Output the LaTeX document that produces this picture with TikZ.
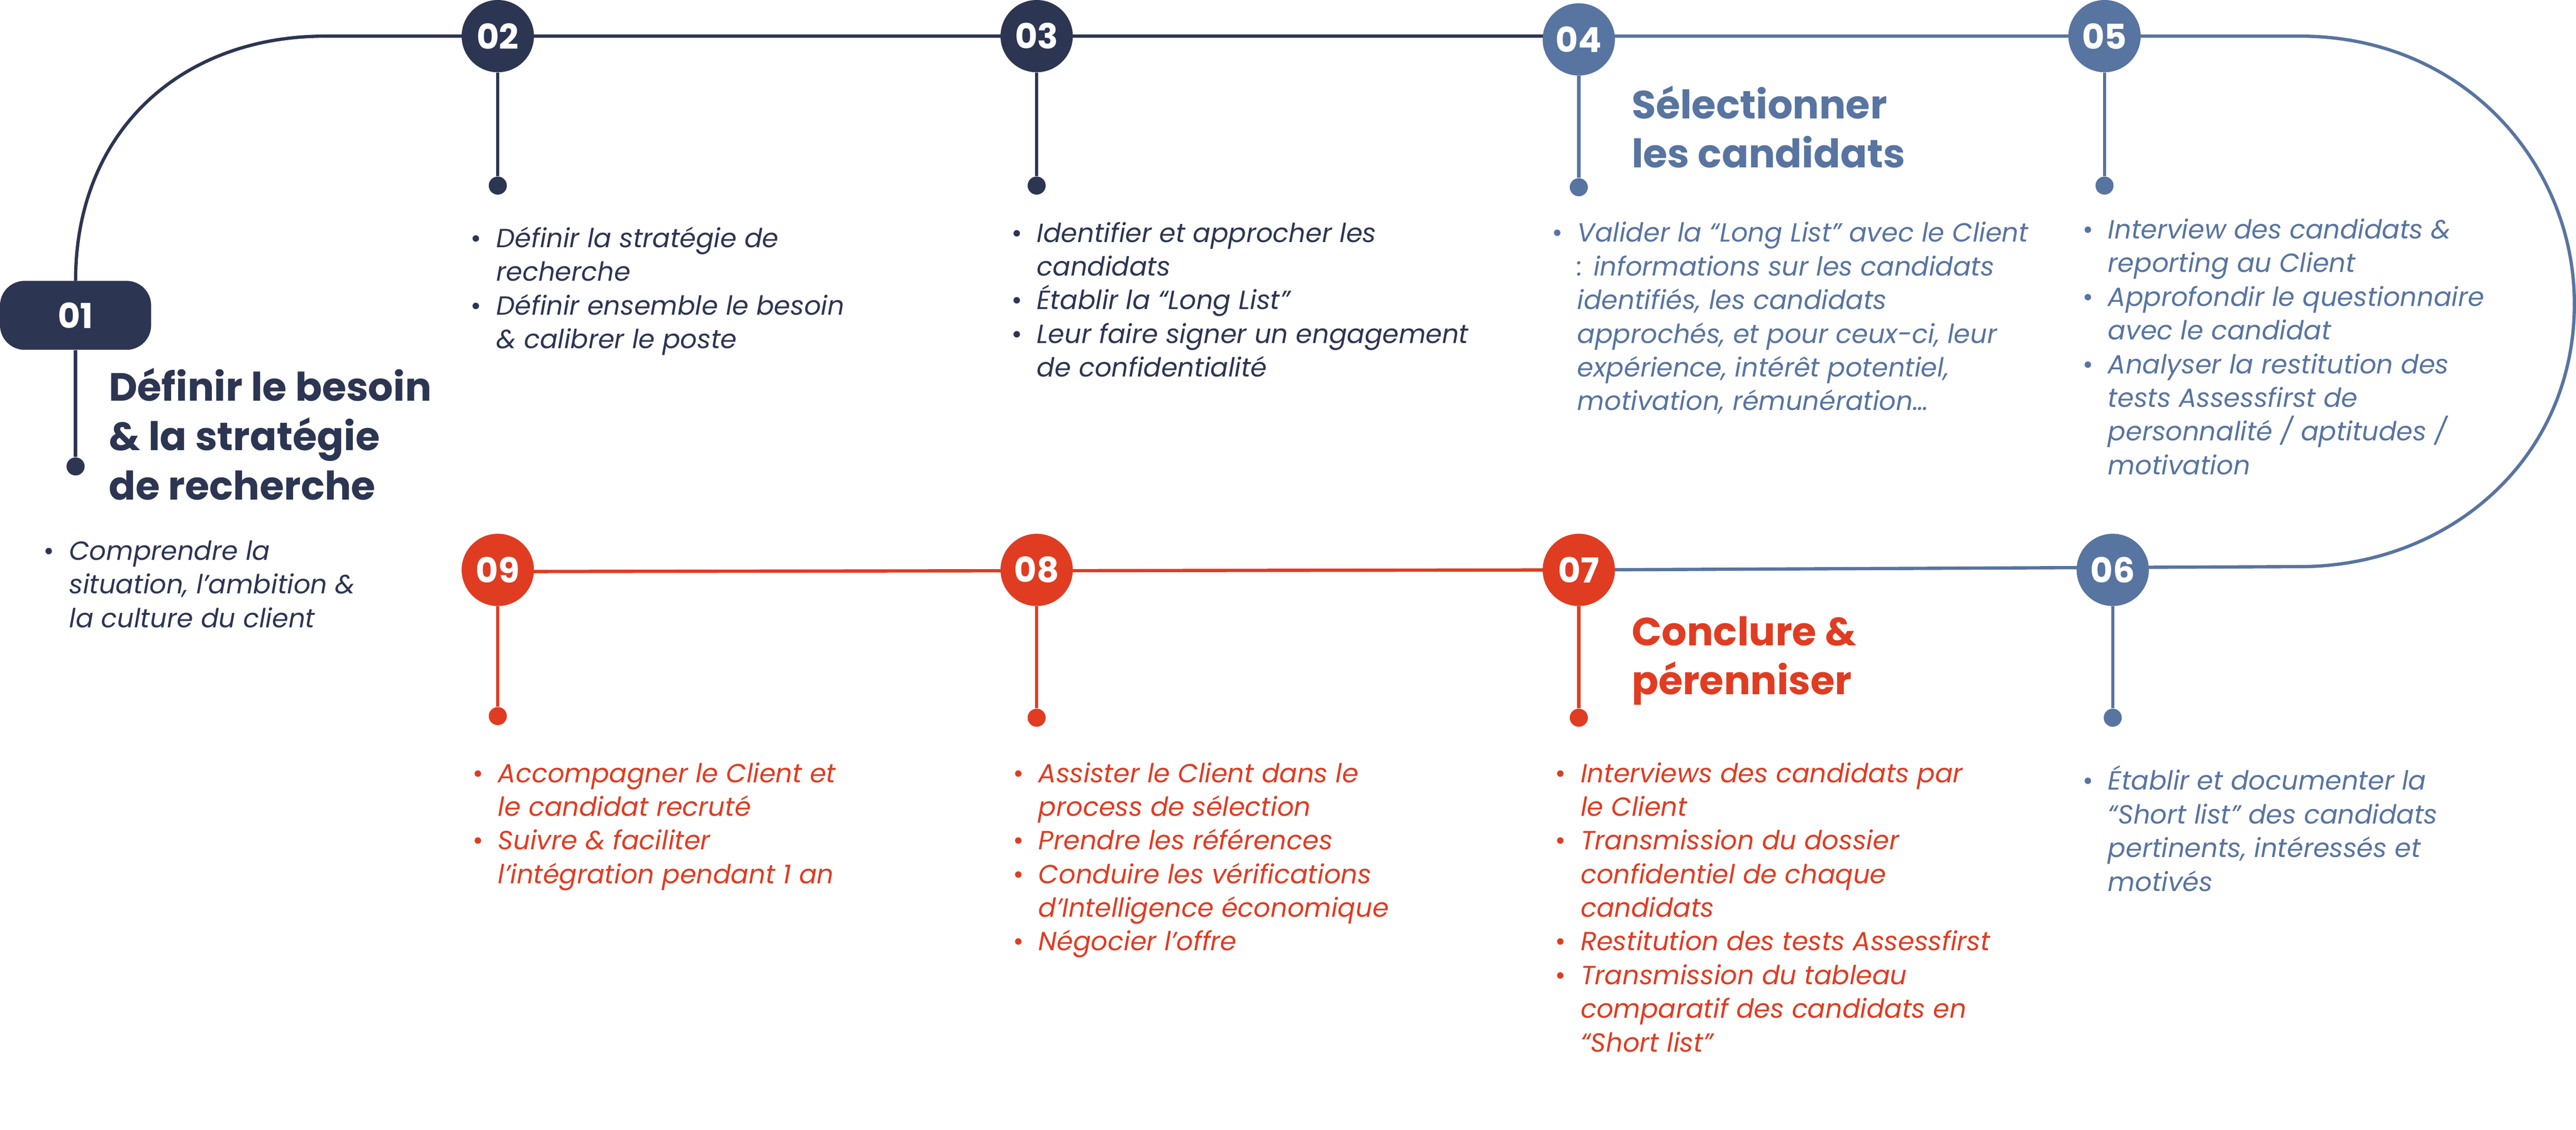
\documentclass[tikz,border=0pt]{standalone}
\usepackage{fontspec}
\setmainfont{Poppins}
\definecolor{navy}{HTML}{2C3552}
\definecolor{blu}{HTML}{5874A0}
\definecolor{rd}{HTML}{E03C22}
\tikzset{
 num/.style={circle,fill=#1,minimum size=44pt,inner sep=0pt,text=white,font=\fontsize{21}{21}\selectfont\bfseries},
 ln/.style={draw=#1,line width=2pt},
 dotc/.style={circle,fill=#1,minimum size=11pt,inner sep=0pt},
 body/.style={anchor=north west,align=left,inner sep=0pt,text=#1,font=\fontsize{16}{20.5}\selectfont\itshape},
 head/.style={anchor=north west,align=left,inner sep=0pt,text=#1,font=\fontsize{24}{30}\selectfont\bfseries},
}
\newcommand{\bul}{\makebox[0pt][r]{\upshape\textbullet\hspace{9pt}}}
\begin{document}
\begin{tikzpicture}[x=1pt,y=-1pt]
\useasboundingbox (0,0) rectangle (1568,688);
% main track
\draw[ln=navy] (46,171) .. controls (46,80) and (110,22) .. (198,22) -- (961,22);
\draw[ln=blu] (961,22) -- (1400,22) .. controls (1500,22) and (1567,100) .. (1567,185) .. controls (1567,280) and (1490,345) .. (1400,345) -- (961,347);
\draw[ln=rd] (961,347) -- (303,348);
% circles
\node[num=navy] (n2) at (303,22) {02};
\node[num=navy] (n3) at (631,22) {03};
\node[num=blu] (n4) at (961,24) {04};
\node[num=blu] (n5) at (1281,22) {05};
\node[num=blu] (n6) at (1286,347) {06};
\node[num=rd] (n7) at (961,347) {07};
\node[num=rd] (n8) at (631,347) {08};
\node[num=rd] (n9) at (303,347) {09};
\node[rounded corners=15pt,fill=navy,minimum width=92pt,minimum height=42pt,text=white,font=\fontsize{21}{21}\selectfont\bfseries] (n1) at (46,192) {01};
% stems
\node[dotc=navy] (d1) at (46,284) {};
\node[dotc=navy] (d2) at (303,113) {};
\node[dotc=navy] (d3) at (631,113) {};
\node[dotc=blu] (d4) at (961,114) {};
\node[dotc=blu] (d5) at (1281,113) {};
\node[dotc=blu] (d6) at (1286,437) {};
\node[dotc=rd] (d7) at (961,437) {};
\node[dotc=rd] (d8) at (631,437) {};
\node[dotc=rd] (d9) at (303,436) {};
\foreach \a/\b/\c in {n1/d1/navy,n2/d2/navy,n3/d3/navy,n4/d4/blu,n5/d5/blu,n6/d6/blu,n7/d7/rd,n8/d8/rd,n9/d9/rd}
  \draw[ln=\c] (\a) -- (\b);
% headings
\node[head=navy] (h1) at (66,224) {Définir le besoin\\\& la stratégie\\de recherche};
\node[head=blu] (h4) at (993,52) {Sélectionner\\les candidats};
\node[head=rd] (h7) at (993,375) {Conclure \&\\pérenniser};
% bodies
\node[body=navy] (t1) at (42,329) {\bul Comprendre la\\situation, l’ambition \&\\la culture du client};
\node[body=navy] (t2) at (302,138) {\bul Définir la stratégie de\\recherche\\\bul Définir ensemble le besoin\\\& calibrer le poste};
\node[body=navy] (t3) at (631,135) {\bul Identifier et approcher les\\candidats\\\bul Établir la “Long List”\\\bul Leur faire signer un engagement\\de confidentialité};
\node[body=blu] (t4) at (960,135) {\bul Valider la “Long List” avec le Client\\: informations sur les candidats\\identifiés, les candidats\\approchés, et pour ceux-ci, leur\\expérience, intérêt potentiel,\\motivation, rémunération…};
\node[body=blu] (t5) at (1283,133) {\bul Interview des candidats \&\\reporting au Client\\\bul Approfondir le questionnaire\\avec le candidat\\\bul Analyser la restitution des\\tests Assessfirst de\\personnalité / aptitudes /\\motivation};
\node[body=blu] (t6) at (1283,466) {\bul Établir et documenter la\\“Short list” des candidats\\pertinents, intéressés et\\motivés};
\node[body=rd] (t7) at (962,464) {\bul Interviews des candidats par\\le Client\\\bul Transmission du dossier\\confidentiel de chaque\\candidats\\\bul Restitution des tests Assessfirst\\\bul Transmission du tableau\\comparatif des candidats en\\“Short list”};
\node[body=rd] (t8) at (632,464) {\bul Assister le Client dans le\\process de sélection\\\bul Prendre les références\\\bul Conduire les vérifications\\d’Intelligence économique\\\bul Négocier l’offre};
\node[body=rd] (t9) at (303,464) {\bul Accompagner le Client et\\le candidat recruté\\\bul Suivre \& faciliter\\l’intégration pendant 1 an};
\end{tikzpicture}
\end{document}
